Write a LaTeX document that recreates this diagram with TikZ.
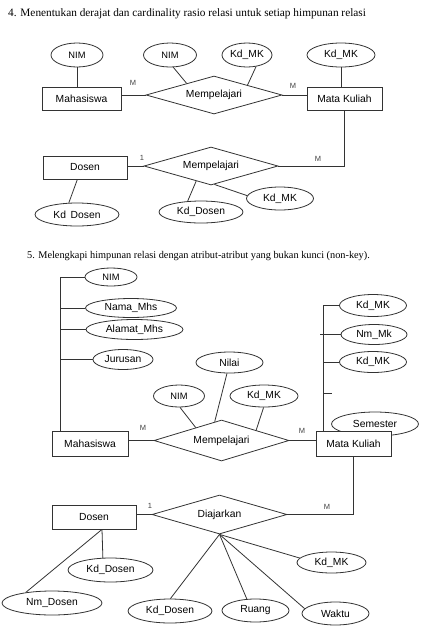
\documentclass[tikz,border=0pt]{standalone}
\usepackage{fontspec}
\setmainfont{Liberation Serif}
\setsansfont{Liberation Sans}
\usetikzlibrary{shapes.geometric,calc}
\tikzset{
  ln/.style={draw=black!80, line width=0.8pt},
  ent/.style 2 args={rectangle, draw=black!80, line width=0.8pt, fill=white,
    minimum width=#1pt, minimum height=#2pt, inner sep=0pt,
    font=\sffamily\fontsize{10.3}{12}\selectfont},
  att/.style 2 args={ellipse, draw=black!80, line width=0.8pt, fill=white,
    minimum width=#1pt, minimum height=#2pt, inner sep=0pt,
    font=\sffamily\fontsize{10.3}{12}\selectfont},
  rel/.style 2 args={diamond, aspect=3.5, draw=black!80, line width=0.8pt, fill=white,
    minimum width=#1pt, minimum height=#2pt, inner sep=0pt,
    font=\sffamily\fontsize{10.3}{12}\selectfont},
  smalltxt/.style={font=\sffamily\fontsize{9.3}{11}\selectfont},
  card/.style={font=\sffamily\fontsize{7.5}{9}\selectfont, text=black!75, inner sep=0pt},
  ttl/.style={anchor=west, inner sep=0pt}
}
\begin{document}
\begin{tikzpicture}[x=1pt,y=-1pt]
\useasboundingbox (0,0) rectangle (432,638);

% ---------------- Section 4 ----------------
\node[ttl, font=\fontsize{11.3}{13}\selectfont] (t1) at (8,14) {4. Menentukan derajat dan cardinality rasio relasi untuk setiap himpunan relasi};

\node[att={52}{24}, smalltxt] (nimA) at (77,55) {NIM};
\node[att={53}{24}, smalltxt] (nimB) at (170,55) {NIM};
\node[att={50}{24}] (kdA) at (247,55) {Kd\_MK};
\node[att={68}{24}] (kdB) at (341,55) {Kd\_MK};
\node[ent={79}{23}] (mhs1) at (81.5,98.5) {Mahasiswa};
\node[rel={136}{38}] (rel1) at (214,95) {Mempelajari};
\node[ent={75}{23}] (matk1) at (344.5,98.5) {Mata Kuliah};

\draw[ln] (nimA.south) -- (nimA.south |- mhs1.north);
\draw[ln] (nimB.-75) -- ($(rel1.west)!0.6!(rel1.north)$);
\draw[ln] (kdA.-52) -- ($(rel1.north)!0.49!(rel1.east)$);
\draw[ln] (kdB.south) -- (kdB.south |- matk1.north);
\draw[ln] (rel1.west -| mhs1.east) -- (rel1.west);
\draw[ln] (rel1.east) -- (rel1.east -| matk1.west);
\node[card] (m1) at (133,83) {M};
\node[card] (m2) at (293,86) {M};

\node[ent={84}{23}] (dos1) at (85,167.5) {Dosen};
\node[rel={134}{38}] (rel2) at (211,166) {Mempelajari};
\node[att={84}{23}] (kdDosA) at (77,214.5) {Kd\hspace{0.45em}Dosen};
\node[att={84}{22}] (kdDosB) at (201,212) {Kd\_Dosen};
\node[att={67}{23}] (kdMK2) at (280,198.5) {Kd\_MK};

\draw[ln] (matk1.south) -- (matk1.south |- rel2.east) -- (rel2.east);
\draw[ln] (rel2.west -| dos1.east) -- (rel2.west);
\draw[ln] ($(dos1.south west)!0.41!(dos1.south east)$) -- (kdDosA.125);
\draw[ln] ($(rel2.west)!0.78!(rel2.south)$) -- (kdDosB.141);
\draw[ln] ($(rel2.south)!0.05!(rel2.east)$) -- (kdMK2.175);
\node[card] (c1) at (142,158) {1};
\node[card] (m3) at (318,159) {M};

% ---------------- Section 5 ----------------
\node[ttl, font=\fontsize{10.3}{12}\selectfont] (t2) at (27,256) {5. Melengkapi himpunan relasi dengan atribut-atribut yang bukan kunci (non-key).};

\coordinate (L) at (60,0);
\coordinate (R) at (323,0);

\node[att={52}{18}, smalltxt] (nimC) at (111,277) {NIM};
\node[att={91}{19}] (nama) at (131,308) {Nama\_Mhs};
\node[att={97}{20}] (alamat) at (134.5,329.5) {Alamat\_Mhs};
\node[att={60}{20}] (jur) at (123,359.5) {Jurusan};
\node[att={67}{21}] (nilai) at (229.5,362.5) {Nilai};
\node[att={51}{22}, smalltxt] (nimD) at (179,396) {NIM};
\node[att={68}{22}] (kdMK3) at (264,396) {Kd\_MK};

\node[att={67}{22}] (kdMK4) at (373,305.5) {Kd\_MK};
\node[att={66}{20}] (nmmk) at (374,334.5) {Nm\_Mk};
\node[att={67}{21}] (kdMK5) at (373,362) {Kd\_MK};
\node[att={87}{24}] (sem) at (375,424) {Semester};

\node[ent={76}{25}] (mhs2) at (90,443.5) {Mahasiswa};
\node[rel={135}{41}] (rel3) at (221.5,440.5) {Mempelajari};
\node[ent={75}{25}] (matk2) at (353.5,443.5) {Mata Kuliah};

\draw[ln] (nimC.west -| L) -- (L |- mhs2.north);
\draw[ln] (nimC.west -| L) -- (nimC.west);
\draw[ln] (nama.west -| L) -- (nama.west);
\draw[ln] (alamat.west -| L) -- (alamat.west);
\draw[ln] (jur.west -| L) -- (jur.west);

\draw[ln] (kdMK4.west -| R) -- (R |- matk2.north);
\draw[ln] (kdMK4.west -| R) -- (kdMK4.west);
\draw[ln] ($(nmmk.west -| R)+(-3,0)$) -- (nmmk.west);
\draw[ln] (kdMK5.west -| R) -- (kdMK5.west);
\coordinate (tk) at (332,393);
\draw[ln] (tk -| R) -- (tk);

\draw[ln] (nimD.-85) -- ($(rel3.west)!0.62!(rel3.north)$);
\draw[ln] (nilai.-103) -- ($(rel3.west)!0.9!(rel3.north)$);
\draw[ln] (kdMK3.-92) -- ($(rel3.north)!0.51!(rel3.east)$);
\draw[ln] (rel3.west -| mhs2.east) -- (rel3.west);
\draw[ln] (rel3.east) -- (rel3.east -| matk2.west);
\node[card] (m4) at (143,428) {M};
\node[card] (m5) at (302,431) {M};

\node[ent={84}{24}] (dos2) at (94,517) {Dosen};
\node[rel={135}{39}] (rel4) at (219.5,514.5) {Diajarkan};
\node[att={85}{24}] (kdDosC) at (110.5,570) {Kd\_Dosen};
\node[att={100}{24}] (nmDos) at (52,603) {Nm\_Dosen};
\node[att={84}{24}] (kdDosD) at (170,611) {Kd\_Dosen};
\node[att={67}{23}] (ruang) at (255.5,610.5) {Ruang};
\node[att={67}{23}] (waktu) at (335.5,613.5) {Waktu};
\node[att={69}{21}] (kdMK6) at (331.5,562.5) {Kd\_MK};

\draw[ln] (matk2.south) -- (matk2.south |- rel4.east) -- (rel4.east);
\draw[ln] (rel4.west -| dos2.east) -- (rel4.west);
\coordinate (dB) at ($(dos2.south)+(8,0)$);
\draw[ln] (dB) -- (kdDosC.122);
\draw[ln] (dB) -- (nmDos.158);
\draw[ln] (rel4.south) -- (kdDosD.88);
\draw[ln] (rel4.south) -- (ruang.127);
\draw[ln] (rel4.south) -- (waktu.171);
\draw[ln] (rel4.south) -- (kdMK6.172);
\node[card] (c2) at (150,506) {1};
\node[card] (m6) at (327,507) {M};
\end{tikzpicture}
\end{document}
